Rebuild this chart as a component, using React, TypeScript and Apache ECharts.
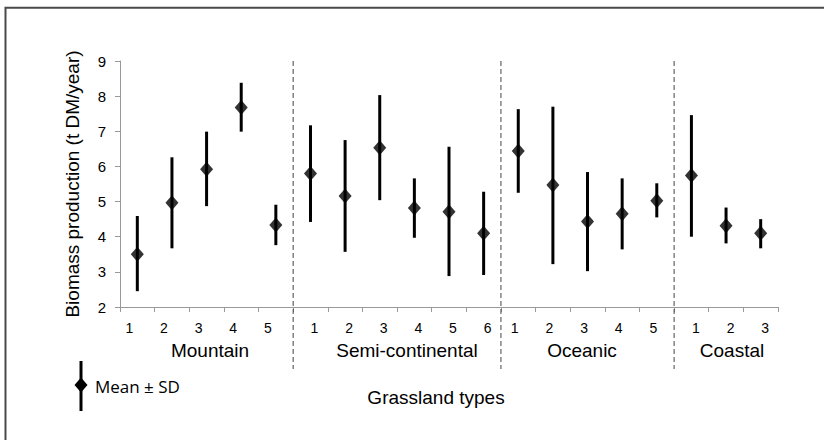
import React, { useEffect, useRef } from "react";
import * as echarts from "echarts";

const groups = ["Mountain", "Semi-continental", "Oceanic", "Coastal"];
const groupSizes = [5, 6, 5, 3];
const tickLabels = [
  "1", "2", "3", "4", "5",
  "1", "2", "3", "4", "5", "6",
  "1", "2", "3", "4", "5",
  "1", "2", "3",
];
const means = [
  3.5, 4.97, 5.92, 7.68, 4.33,
  5.8, 5.16, 6.53, 4.82, 4.71, 4.1,
  6.44, 5.47, 4.43, 4.65, 5.02,
  5.74, 4.31, 4.1,
];
const lows = [
  2.45, 3.67, 4.87, 6.99, 3.76,
  4.42, 3.57, 5.04, 3.97, 2.88, 2.91,
  5.25, 3.22, 3.02, 3.64, 4.55,
  4.0, 3.81, 3.67,
];
const highs = [
  4.59, 6.26, 6.99, 8.38, 4.91,
  7.17, 6.75, 8.03, 5.66, 6.56, 5.28,
  7.63, 7.7, 5.84, 5.66, 5.52,
  7.46, 4.83, 4.5,
];
const yTicks = { min: 2, max: 9, interval: 1 };
const yTitle = "Biomass production (t DM/year)";
const xTitle = "Grassland types";
const legendText = "Mean \u00b1 SD";

const FONT = "'Liberation Sans', Arial, sans-serif";

export default function App() {
  const ref = useRef<HTMLDivElement>(null);
  useEffect(() => {
    if (!ref.current) return;
    const chart = echarts.init(ref.current, null, { renderer: "svg" });

    const categories: string[] = [];
    const groupOf: number[] = [];
    groups.forEach((g, gi) => {
      for (let k = 0; k < groupSizes[gi]; k++) {
        categories.push(g + " " + (k + 1));
        groupOf.push(gi);
      }
    });
    const boundaries: number[] = [];
    let acc = 0;
    for (let gi = 0; gi < groupSizes.length - 1; gi++) {
      acc += groupSizes[gi];
      boundaries.push(acc);
    }
    const richKeys = ["g0", "g1", "g2", "g3"];

    const option: any = {
      animation: false,
      backgroundColor: "#fff",
      grid: { left: 120, right: 46, top: 61, bottom: 133 },
      xAxis: {
        type: "category",
        data: categories,
        boundaryGap: true,
        axisLine: { lineStyle: { color: "#999", width: 1 } },
        axisTick: { show: true, interval: 0, length: 5, lineStyle: { color: "#999" } },
        axisLabel: {
          interval: 0,
          margin: 14,
          color: "#000",
          fontSize: 14,
          fontFamily: FONT,
          formatter: (_v: string, idx: number) =>
            "{" + richKeys[groupOf[idx]] + "|" + tickLabels[idx] + "}",
          rich: {
            g0: { fontSize: 14, fontFamily: FONT, color: "#000", padding: [0, 16, 0, 0] },
            g1: { fontSize: 14, fontFamily: FONT, color: "#000", padding: [0, 0, 0, 8] },
            g2: { fontSize: 14, fontFamily: FONT, color: "#000", padding: [0, 7, 0, 0] },
            g3: { fontSize: 14, fontFamily: FONT, color: "#000", padding: [0, 0, 0, 9] },
          },
        },
        splitLine: { show: false },
      },
      yAxis: {
        type: "value",
        min: yTicks.min,
        max: yTicks.max,
        interval: yTicks.interval,
        name: yTitle,
        nameLocation: "middle",
        nameGap: 38,
        nameTextStyle: { color: "#000", fontSize: 19, fontFamily: FONT },
        axisLine: { show: true, lineStyle: { color: "#999", width: 1 } },
        axisTick: { show: true, length: 5, lineStyle: { color: "#999" } },
        axisLabel: { color: "#000", fontSize: 15, fontFamily: FONT, margin: 14 },
        splitLine: { show: false },
      },
      series: [
        {
          type: "custom",
          name: "separators",
          clip: false,
          silent: true,
          data: boundaries.map((b) => [b, yTicks.max]),
          encode: { x: 0, y: 1 },
          renderItem: (_p: any, api: any) => {
            const b = api.value(0);
            const a = api.coord([b - 1, yTicks.max]);
            const c = api.coord([b, yTicks.min]);
            const x = (a[0] + c[0]) / 2;
            return {
              type: "line",
              shape: { x1: x, y1: a[1], x2: x, y2: c[1] + 62 },
              style: { stroke: "#444", lineWidth: 1, lineDash: [5, 3] },
            };
          },
          z: 1,
        },
        {
          type: "custom",
          name: "sd",
          data: means.map((_m, i) => [i, lows[i], highs[i]]),
          encode: { x: 0, y: [1, 2] },
          renderItem: (_p: any, api: any) => {
            const i = api.value(0);
            const p1 = api.coord([i, api.value(1)]);
            const p2 = api.coord([i, api.value(2)]);
            return {
              type: "line",
              shape: { x1: p1[0], y1: p1[1], x2: p2[0], y2: p2[1] },
              style: { stroke: "#000", lineWidth: 3 },
            };
          },
          z: 2,
        },
        {
          type: "scatter",
          name: "mean",
          data: means.map((m, i) => [i, m]),
          symbol: "diamond",
          symbolSize: [13, 15],
          itemStyle: { color: "#000" },
          z: 3,
        },
      ],
      graphic: [
        {
          type: "rect",
          shape: { x: 5.5, y: 7.8, width: 1000, height: 1000 },
          style: { fill: "none", stroke: "#4a4a4a", lineWidth: 2 },
          silent: true,
        },
        {
          type: "text",
          x: 210,
          y: 350,
          style: { text: groups[0], fontSize: 19, fontFamily: FONT, fill: "#000", textAlign: "center", textVerticalAlign: "middle" },
        },
        {
          type: "text",
          x: 407,
          y: 350,
          style: { text: groups[1], fontSize: 19, fontFamily: FONT, fill: "#000", textAlign: "center", textVerticalAlign: "middle" },
        },
        {
          type: "text",
          x: 582,
          y: 350,
          style: { text: groups[2], fontSize: 19, fontFamily: FONT, fill: "#000", textAlign: "center", textVerticalAlign: "middle" },
        },
        {
          type: "text",
          x: 732,
          y: 350,
          style: { text: groups[3], fontSize: 19, fontFamily: FONT, fill: "#000", textAlign: "center", textVerticalAlign: "middle" },
        },
        {
          type: "text",
          x: 436,
          y: 397,
          style: { text: xTitle, fontSize: 19, fontFamily: FONT, fill: "#000", textAlign: "center", textVerticalAlign: "middle" },
        },
        {
          type: "line",
          shape: { x1: 81, y1: 361, x2: 81, y2: 411 },
          style: { stroke: "#000", lineWidth: 3 },
        },
        {
          type: "polygon",
          shape: { points: [[81, 377.5], [87.5, 385], [81, 392.5], [74.5, 385]] },
          style: { fill: "#000" },
        },
        {
          type: "text",
          x: 95,
          y: 386,
          style: { text: legendText, fontSize: 17, fontFamily: "'Open Sans', Lato, sans-serif", fill: "#000", textAlign: "left", textVerticalAlign: "middle" },
        },
      ],
    };
    chart.setOption(option);
    return () => chart.dispose();
  }, []);
  return (
    <div
      ref={ref}
      style={{ position: "fixed", left: 0, top: 0, width: 824, height: 440 }}
    />
  );
}
